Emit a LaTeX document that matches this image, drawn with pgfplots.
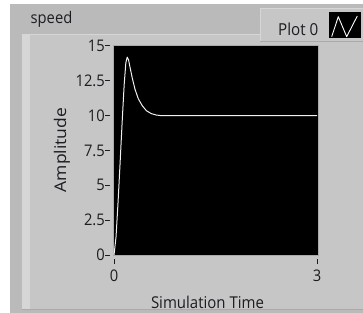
\documentclass[border=0pt]{standalone}
\usepackage{pgfplots}
\pgfplotsset{compat=1.18}
\usepackage{fontspec}
\setmainfont{Open Sans}[FakeStretch=0.92]
\newfontfamily\plainfont{Open Sans}
\definecolor{outerg}{RGB}{186,186,186}
\definecolor{innerg}{RGB}{198,198,198}
\definecolor{bevel}{RGB}{214,214,214}
\definecolor{txt}{RGB}{28,28,34}
\definecolor{frameg}{RGB}{170,170,170}
\begin{document}
\begin{tikzpicture}
\useasboundingbox (0,0) rectangle (363bp,313bp);
\clip (0,0) rectangle (363bp,313bp);
\fill[white] (0,0) rectangle (363bp,313bp);
\fill[outerg] (10bp,0) rectangle (363bp,309bp);
\fill[innerg] (22bp,3bp) rectangle (363bp,279bp);
\fill[bevel] (22bp,3bp) rectangle (30bp,279bp);
\draw[bevel, line width=1bp] (22bp,278.5bp) -- (363bp,278.5bp);
\draw[frameg, line width=1bp] (22bp,3bp) -- (363bp,3bp);
% legend box
\fill[innerg] (260bp,271bp) rectangle (363bp,305bp);
\draw[bevel, line width=1.5bp] (260.5bp,271bp) -- (260.5bp,304.5bp) -- (363bp,304.5bp);
\draw[frameg, line width=1bp] (260bp,271.5bp) -- (363bp,271.5bp);
\node[anchor=base west, inner sep=0pt, text=txt, font=\fontsize{16bp}{19bp}\selectfont] at (30.5bp,289.5bp) {speed};
\node[anchor=base west, inner sep=0pt, text=txt, font=\fontsize{16.5bp}{19bp}\selectfont] at (278bp,277bp) {Plot 0};
\fill[black] (328.5bp,274.5bp) rectangle (360.5bp,300.5bp);
\draw[white, line width=0.9bp, line join=round] (331.7bp,276.3bp) -- (338.3bp,296.3bp) -- (346.7bp,276.3bp) -- (357.3bp,297bp);
\begin{axis}[
  at={(113bp,58bp)}, anchor=south west,
  scale only axis, width=205bp, height=209bp,
  xmin=-0.0148, xmax=3.0148, ymin=0, ymax=15,
  xtick={0,3}, ytick={0,2.5,5,7.5,10,12.5,15},
  xtick pos=bottom, ytick pos=left,
  tick align=outside, major tick length=5bp,
  minor tick num=0,
  axis background/.style={fill=black},
  axis line style={draw=frameg, line width=1bp},
  every tick/.style={draw=txt, line width=1bp},
  y tick style={xshift=-3bp},
  x tick style={yshift=-4bp},
  /pgf/number format/assume math mode=true,
  ticklabel style={text=txt, font=\fontsize{16bp}{19bp}\selectfont, inner sep=0pt},
  yticklabel style={anchor=east, xshift=-3bp},
  xticklabel style={anchor=north, yshift=-9.5bp},
  xlabel={Simulation Time},
  ylabel={\scalebox{1}[0.92]{\plainfont\fontsize{17.5bp}{20bp}\selectfont Amplitude}},
  label style={text=txt, font=\fontsize{16.3bp}{19bp}\selectfont, inner sep=0pt},
  xlabel style={at={(axis description cs:0.461,-0.255)}, anchor=base},
  ylabel style={at={(axis description cs:-0.249,0.502)}, anchor=center},
  clip=true,
]
\addplot[color=white!94!black, line width=1bp, line join=round] coordinates {
 (0,0) (0.03,1.3) (0.06,3.8) (0.09,6.6) (0.12,9.5) (0.15,12.2) (0.175,13.8)
 (0.195,14.2) (0.215,14.0) (0.24,13.4) (0.27,12.7) (0.31,11.9) (0.36,11.2)
 (0.42,10.7) (0.48,10.35) (0.55,10.15) (0.62,10.05) (0.7,10.0) (3,10)
};
\end{axis}
\end{tikzpicture}
\end{document}
